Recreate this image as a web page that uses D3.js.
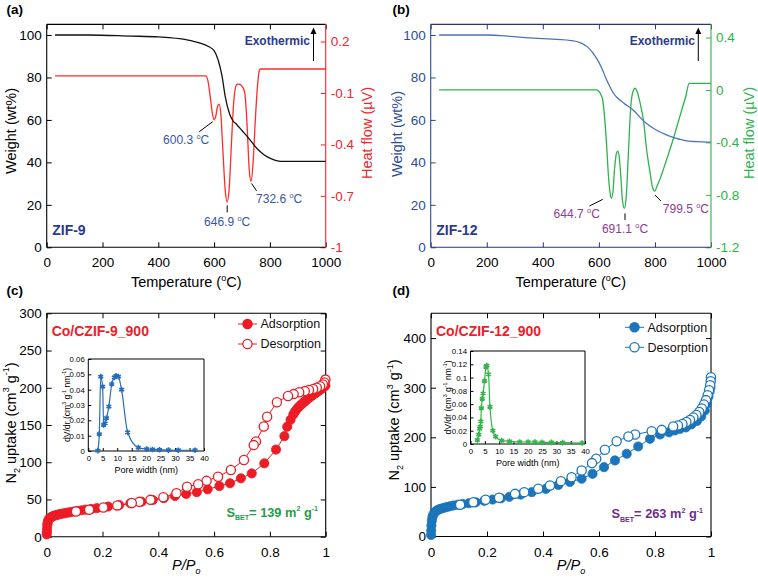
<!DOCTYPE html>
<html><head><meta charset="utf-8">
<script src="https://cdn.jsdelivr.net/npm/d3@7"></script>
<style>
body{margin:0;background:#fff;}
svg{display:block;font-family:"Liberation Sans",Arial,Helvetica,sans-serif;}
text{white-space:pre;}
</style></head><body>
<svg id="chart" width="758" height="578"></svg>
<script>
// ---------------- DATA ----------------
const tempTicks = [0, 200, 400, 600, 800, 1000];
const weightTicks = [0, 20, 40, 60, 80, 100];
const heatTicksA = [0.2, -0.1, -0.4, -0.7, -1];
const heatTicksB = [0.4, 0, -0.4, -0.8, -1.2];

// ZIF-9 TGA weight (T degC, wt%)
const weightA = [[30,100],[150,100],[300,99.5],[400,99.1],[500,97.8],[550,96.2],[580,94.6],[600,92.6],[615,88],[628,81],[640,71],[655,63],[668,59.5],[680,58],[700,55],[720,52],[740,48.7],[760,45.7],[780,43.5],[800,42],[820,41],[840,40.5],[1000,40.5]];
// ZIF-9 heat flow (T degC, uV)
const heatA = [[30,0],[570,0],[578,-0.03],[586,-0.12],[594,-0.22],[600.3,-0.256],[606,-0.235],[612,-0.18],[618,-0.165],[624,-0.22],[632,-0.45],[640,-0.67],[646.9,-0.735],[654,-0.66],[662,-0.4],[670,-0.16],[678,-0.06],[684,-0.048],[692,-0.05],[702,-0.065],[710,-0.1],[718,-0.28],[726,-0.55],[732.6,-0.616],[740,-0.5],[748,-0.25],[756,-0.05],[762,0.03],[766,0.04],[1000,0.04]];
const peaksA = [600.3, 646.9, 732.6];

// ZIF-12 TGA weight
const weightB = [[30,100],[200,100],[250,99.7],[300,99.2],[350,98.7],[400,98.3],[450,97.9],[500,97.4],[533,96.4],[560,94.3],[592,89],[610,84.5],[627,79],[640,75.5],[651,72.8],[663,70.8],[690,67.8],[722,64.7],[750,60.8],[769,58.4],[800,55.6],[829,53.7],[860,52],[888,50.9],[920,50],[948,49.8],[1000,49.5]];
// ZIF-12 heat flow
const heatB = [[30,0],[590,0],[600,-0.01],[608,-0.04],[614,-0.08],[620,-0.2],[627,-0.4],[634,-0.65],[639,-0.77],[644.7,-0.827],[650,-0.78],[656,-0.6],[662,-0.49],[667,-0.466],[672,-0.5],[678,-0.65],[684,-0.84],[691.1,-0.903],[698,-0.8],[706,-0.45],[714,-0.12],[722,-0.01],[729,0.013],[736,-0.01],[745,-0.08],[752,-0.15],[759,-0.23],[770,-0.45],[783,-0.635],[791,-0.74],[799.5,-0.771],[808,-0.73],[818,-0.68],[831,-0.6],[848,-0.49],[866,-0.37],[881,-0.26],[896,-0.15],[910,-0.05],[922,0.05],[1000,0.05]];
const peaksB = [644.7, 691.1, 799.5];

// N2 isotherms (P/Po, cm3 g-1)
const pTicks = [0, 0.2, 0.4, 0.6, 0.8, 1];
const uptakeTicksC = [0, 50, 100, 150, 200, 250, 300];
const uptakeTicksD = [0, 100, 200, 300, 400];
const adsorptionC = [[0.0002,3],[0.0005,6],[0.001,10],[0.002,15],[0.003,18],[0.005,21],[0.007,23],[0.01,24.5],[0.013,25.5],[0.017,26.5],[0.021,27.3],[0.026,28],[0.031,28.7],[0.037,29.3],[0.043,29.9],[0.05,30.5],[0.058,31.1],[0.066,31.7],[0.075,32.3],[0.085,33],[0.097,33.8],[0.11,34.6],[0.125,35.5],[0.14,36.3],[0.16,37.3],[0.18,38.3],[0.22,40.5],[0.26,42.6],[0.3,44.8],[0.34,47],[0.38,49.3],[0.42,51.8],[0.46,54.7],[0.5,57.5],[0.538,59.8],[0.577,63.6],[0.619,68],[0.657,71.8],[0.696,78.4],[0.735,85],[0.78,98.5],[0.822,117],[0.852,135],[0.862,147.7],[0.874,157],[0.884,164],[0.89,168],[0.896,171],[0.902,173.5],[0.908,176],[0.914,178],[0.92,180],[0.926,182],[0.932,184],[0.938,185.8],[0.944,187.5],[0.95,189.2],[0.956,190.8],[0.962,192.4],[0.968,194],[0.974,195.6],[0.98,197.2],[0.985,198.6],[0.99,200],[0.995,201.5],[0.999,203]];
const desorptionC = [[0.999,211],[0.995,207],[0.99,204.5],[0.98,202],[0.968,200],[0.955,198.5],[0.94,197],[0.925,195.5],[0.905,194],[0.885,191.5],[0.865,189],[0.825,180.5],[0.79,161],[0.778,148],[0.75,128],[0.742,123],[0.707,103],[0.66,89.6],[0.614,80.6],[0.573,75],[0.543,70.5],[0.503,67],[0.465,58.5],[0.418,52.9],[0.372,49.5],[0.332,46.8],[0.305,45.2],[0.253,42],[0.203,39.2],[0.152,36.2],[0.105,33.8]];
const adsorptionD = [[0.0003,3],[0.0008,12],[0.0015,22],[0.003,32],[0.005,39],[0.008,44],[0.012,48],[0.017,51],[0.023,53],[0.03,55],[0.038,56.5],[0.047,58],[0.057,59.5],[0.068,61],[0.08,62.5],[0.095,64],[0.113,65.5],[0.135,67],[0.16,69],[0.19,72],[0.22,74.5],[0.25,77],[0.28,80],[0.32,84.5],[0.36,89.4],[0.41,96],[0.455,104],[0.496,110],[0.538,116.4],[0.577,126.4],[0.618,139.8],[0.657,153.3],[0.699,166.8],[0.74,181.5],[0.782,197],[0.818,205.7],[0.85,210],[0.871,213.8],[0.89,217],[0.91,220],[0.93,226],[0.95,233],[0.965,242],[0.978,254],[0.986,268],[0.991,282],[0.995,292],[0.998,300]];
const desorptionD = [[1.0,321],[0.999,313],[0.997,305],[0.993,295],[0.988,285],[0.982,275],[0.975,266],[0.967,258],[0.958,251],[0.948,245],[0.937,240],[0.925,235],[0.912,231],[0.898,227],[0.882,224],[0.865,222],[0.824,215],[0.788,212.4],[0.729,205.7],[0.705,201.7],[0.663,192],[0.621,175],[0.59,157],[0.575,148],[0.538,133],[0.502,119.6],[0.464,111.6],[0.425,102.9],[0.383,96.2],[0.333,89.4],[0.3,86],[0.243,78],[0.195,74],[0.151,69.2],[0.104,63.9]];

// Pore size distributions (nm, cm3 g-1 nm-1)
const poreXTicks = [0, 5, 10, 15, 20, 25, 30, 35, 40];
const poreYTicksC = [0, 0.01, 0.02, 0.03, 0.04, 0.05, 0.06];
const poreYTicksD = [0, 0.02, 0.04, 0.06, 0.08, 0.1, 0.12, 0.14];
const poreC = [[3.3,0.0002],[3.8,0.011],[4.3,0.0485],[4.95,0.042],[5.3,0.017],[5.8,0.018],[6.3,0.0215],[7.1,0.029],[8.1,0.0437],[9.0,0.048],[9.6,0.049],[10.4,0.0485],[11.5,0.040],[13.6,0.0122],[17.3,0.0022],[20.2,0.0013],[22.2,0.001],[24.6,0.0008],[27.7,0.0006],[31.1,0.0005],[36.9,0.0005]];
const poreD = [[2.4,0.006],[2.9,0.014],[3.2,0.023],[3.4,0.026],[3.6,0.034],[3.8,0.054],[4.1,0.068],[4.4,0.076],[4.9,0.095],[5.4,0.116],[5.7,0.118],[6.3,0.105],[6.8,0.056],[7.8,0.020],[8.8,0.011],[10.9,0.005],[13.6,0.004],[17.2,0.003],[20.1,0.003],[22.5,0.003],[25.0,0.0025],[28.3,0.0025],[32.2,0.002],[39.0,0.0015]];

// ---------------- DRAWING ----------------
const svg = d3.select('#chart');
const FONT = '"Liberation Sans", Arial, Helvetica, sans-serif';
const TICK_FS = 13.5, TITLE_FS = 14.5;

function rich(t, parts, size, scale) {
  const sc = scale || 0.62;
  let cur = 0;
  parts.forEach(p => {
    const [s, k] = Array.isArray(p) ? p : [p, 'n'];
    const target = k === 'sup' ? -0.42 * size : (k === 'sub' ? 0.3 * size : 0);
    const ts = t.append('tspan').text(s);
    const d = target - cur;
    if (d) ts.attr('dy', d);
    if (k !== 'n') ts.attr('font-size', size * sc);
    cur = target;
  });
  return t;
}

function styleAxis(a, color, textColor, fs) {
  a.select('.domain').remove();
  a.attr('font-family', FONT);
  a.selectAll('.tick line').attr('stroke', color).attr('stroke-width', 1);
  a.selectAll('.tick text').attr('fill', textColor).attr('font-size', fs);
  return a;
}

function frame(g, x0, x1, y0, y1, cLeft, cRight, cTB, sw) {
  g.append('line').attr('x1', x0).attr('x2', x1).attr('y1', y0).attr('y2', y0).attr('stroke', cTB).attr('stroke-width', sw);
  g.append('line').attr('x1', x0).attr('x2', x1).attr('y1', y1).attr('y2', y1).attr('stroke', cTB).attr('stroke-width', sw);
  g.append('line').attr('x1', x0).attr('x2', x0).attr('y1', y0).attr('y2', y1).attr('stroke', cLeft).attr('stroke-width', sw);
  g.append('line').attr('x1', x1).attr('x2', x1).attr('y1', y0).attr('y2', y1).attr('stroke', cRight).attr('stroke-width', sw);
}

function panelLabel(x, y, s) {
  svg.append('text').attr('x', x).attr('y', y).attr('font-size', 13.5).attr('font-weight', 'bold').text(s);
}

// ---------- TGA panels ----------
function tgaPanel(cfg) {
  const g = svg.append('g');
  const top = 24.4, bot = 247.3;
  const x = d3.scaleLinear([0, 1000], [cfg.x0, cfg.x1]);
  const yW = d3.scaleLinear([0, 105], [bot, top]);
  const yH = d3.scaleLinear(cfg.hDomain, [bot, top]);

  styleAxis(g.append('g').attr('transform', `translate(0,${bot})`)
    .call(d3.axisBottom(x).tickValues(tempTicks).tickSize(-5).tickPadding(10).tickFormat(d3.format('d'))), cfg.tbColor, '#000', TICK_FS);
  styleAxis(g.append('g').attr('transform', `translate(0,${top})`)
    .call(d3.axisTop(x).tickValues(tempTicks).tickSize(-5).tickFormat('')), cfg.tbColor, '#000', TICK_FS);
  styleAxis(g.append('g').attr('transform', `translate(${cfg.x0},0)`)
    .call(d3.axisLeft(yW).tickValues(weightTicks).tickSize(-5).tickPadding(5)), cfg.leftColor, cfg.leftText, TICK_FS);
  styleAxis(g.append('g').attr('transform', `translate(${cfg.x1},0)`)
    .call(d3.axisRight(yH).tickValues(cfg.hTicks).tickSize(-5).tickPadding(5).tickFormat(d => String(d))), cfg.rightColor, cfg.rightColor, TICK_FS);
  frame(g, cfg.x0, cfg.x1, top, bot, cfg.leftColor, cfg.rightColor, cfg.tbColor, 1.1);

  const lineW = d3.line().x(d => x(d[0])).y(d => yW(d[1])).curve(d3.curveMonotoneX);
  const lineH = d3.line().x(d => x(d[0])).y(d => yH(d[1])).curve(d3.curveMonotoneX);
  g.append('path').datum(cfg.heat).attr('d', lineH).attr('fill', 'none').attr('stroke', cfg.heatColor).attr('stroke-width', 1.3);
  g.append('path').datum(cfg.weight).attr('d', lineW).attr('fill', 'none').attr('stroke', cfg.weightColor).attr('stroke-width', 1.3);

  const heatAt = T => cfg.heat.find(d => d[0] === T)[1];
  cfg.peaks.forEach((T, i) => {
    const px = x(T), py = yH(heatAt(T));
    const a = cfg.ann[i];
    g.append('line').attr('x1', px + a.l[0]).attr('y1', py + a.l[1]).attr('x2', px + a.l[2]).attr('y2', py + a.l[3])
      .attr('stroke', '#000').attr('stroke-width', 1);
    const t = g.append('text').attr('x', px + a.t[0]).attr('y', py + a.t[1]).attr('text-anchor', a.anchor)
      .attr('font-size', 12).attr('fill', cfg.annColor);
    rich(t, [T.toFixed(1) + ' ', ['o', 'sup'], 'C'], 12);
  });

  const cx = (cfg.x0 + cfg.x1) / 2;
  rich(svg.append('text').attr('x', cx).attr('y', 287).attr('text-anchor', 'middle').attr('font-size', TITLE_FS),
    ['Temperature (', ['o', 'sup'], 'C)'], TITLE_FS);
  svg.append('text').attr('transform', `translate(${cfg.yTitleL},${cfg.yTitleLy}) rotate(-90)`).attr('text-anchor', 'middle')
    .attr('font-size', TITLE_FS).attr('fill', cfg.leftText).text('Weight (wt%)');
  svg.append('text').attr('transform', `translate(${cfg.yTitleR},133) rotate(-90)`).attr('text-anchor', 'middle')
    .attr('font-size', TITLE_FS).attr('fill', cfg.rightColor).text('Heat flow (\u00B5V)');

  g.append('text').attr('x', cfg.exoX).attr('y', 44.5).attr('text-anchor', 'end').attr('font-size', 12).attr('font-weight', 'bold')
    .attr('fill', '#2b3990').text('Exothermic');
  g.append('line').attr('x1', cfg.arrowX).attr('x2', cfg.arrowX).attr('y1', 61).attr('y2', 31).attr('stroke', '#000').attr('stroke-width', 1);
  g.append('path').attr('d', `M${cfg.arrowX - 3},${34}L${cfg.arrowX},${27.5}L${cfg.arrowX + 3},${34}Z`).attr('fill', '#000');

  g.append('text').attr('x', cfg.x0 + 5.5).attr('y', 235).attr('font-size', 14).attr('font-weight', 'bold').attr('fill', '#2b3990').text(cfg.name);
}

tgaPanel({
  x0: 46.7, x1: 325.7, hDomain: [-1, 0.3], hTicks: heatTicksA,
  weight: weightA, heat: heatA, peaks: peaksA,
  weightColor: '#111', heatColor: '#ff2b2b', leftColor: '#000', leftText: '#000', rightColor: '#f0262b', tbColor: '#000',
  annColor: '#3556a8', name: 'ZIF-9', exoX: 310, arrowX: 313.5,
  yTitleL: 16, yTitleLy: 131, yTitleR: 371.5,
  ann: [
    { l: [-15, 12, -1.5, 2], t: [-28, 24], anchor: 'middle' },
    { l: [0, 3.5, 0, 10.5], t: [0, 24.5], anchor: 'middle' },
    { l: [0.5, 2, 5.5, 9.5], t: [5, 22], anchor: 'start' }
  ]
});
tgaPanel({
  x0: 430.7, x1: 711, hDomain: [-1.2, 0.5], hTicks: heatTicksB,
  weight: weightB, heat: heatB, peaks: peaksB,
  weightColor: '#4a74b8', heatColor: '#2cb34c', leftColor: '#2b4c9b', leftText: '#2b4c9b', rightColor: '#2cb34c', tbColor: '#26367a',
  annColor: '#8b3d8f', name: 'ZIF-12', exoX: 695, arrowX: 698.3,
  yTitleL: 401.7, yTitleLy: 134, yTitleR: 753.5,
  ann: [
    { l: [-22, 7.6, -8.7, 1], t: [-34.7, 20], anchor: 'middle' },
    { l: [0.6, 5, 0.6, 11.6], t: [0.6, 25], anchor: 'middle' },
    { l: [0.2, 4, 6.2, 10], t: [8, 22], anchor: 'start' }
  ]
});

// ---------- Isotherm panels ----------
function isoPanel(cfg) {
  const g = svg.append('g');
  const top = 313.3, bot = cfg.bot;
  const x = d3.scaleLinear([0, 1], [cfg.x0, cfg.x1]);
  const y = d3.scaleLinear([0, cfg.yMax], [bot, top]);

  styleAxis(g.append('g').attr('transform', `translate(0,${bot})`)
    .call(d3.axisBottom(x).tickValues(pTicks).tickSize(-5).tickPadding(11).tickFormat(d => String(d))), '#000', '#000', TICK_FS);
  styleAxis(g.append('g').attr('transform', `translate(0,${top})`)
    .call(d3.axisTop(x).tickValues(pTicks).tickSize(-5).tickFormat('')), '#000', '#000', TICK_FS);
  styleAxis(g.append('g').attr('transform', `translate(${cfg.x0},0)`)
    .call(d3.axisLeft(y).tickValues(cfg.yTicks).tickSize(-5).tickPadding(5)), '#000', '#000', TICK_FS);
  styleAxis(g.append('g').attr('transform', `translate(${cfg.x1},0)`)
    .call(d3.axisRight(y).tickValues(cfg.yTicks).tickSize(-5).tickFormat('')), '#000', '#000', TICK_FS);
  frame(g, cfg.x0, cfg.x1, top, bot, '#000', '#000', '#000', 1.1);

  const line = d3.line().x(d => x(d[0])).y(d => y(d[1]));
  const R = 4.6;
  g.append('path').datum(cfg.ads).attr('d', line).attr('fill', 'none').attr('stroke', cfg.color).attr('stroke-width', 1);
  g.selectAll('circle.ads').data(cfg.ads).join('circle').attr('class', 'ads')
    .attr('cx', d => x(d[0])).attr('cy', d => y(d[1])).attr('r', R).attr('fill', cfg.color).attr('stroke', cfg.color).attr('stroke-width', 0.8);
  g.append('path').datum(cfg.des).attr('d', line).attr('fill', 'none').attr('stroke', cfg.color).attr('stroke-width', 1);
  g.selectAll('circle.des').data(cfg.des).join('circle').attr('class', 'des')
    .attr('cx', d => x(d[0])).attr('cy', d => y(d[1])).attr('r', R).attr('fill', '#fff').attr('stroke', cfg.color).attr('stroke-width', 1.3);

  const lg = g.append('g');
  [['Adsorption', cfg.color], ['Desorption', '#fff']].forEach((d, i) => {
    const ly = cfg.legY + i * 20;
    lg.append('line').attr('x1', cfg.legX).attr('x2', cfg.legX + 19).attr('y1', ly).attr('y2', ly).attr('stroke', cfg.color).attr('stroke-width', 1);
    lg.append('circle').attr('cx', cfg.legX + 9.5).attr('cy', ly).attr('r', R).attr('fill', d[1]).attr('stroke', cfg.color).attr('stroke-width', 1.3);
    lg.append('text').attr('x', cfg.legX + 22.5).attr('y', ly + 4.3).attr('font-size', 12.5).attr('fill', '#111').text(d[0]);
  });

  g.append('text').attr('x', cfg.x0 + 5).attr('y', 335.5).attr('font-size', 14).attr('font-weight', 'bold').attr('fill', '#ee1c25').text(cfg.name);
  rich(g.append('text').attr('x', cfg.sbetX).attr('y', cfg.sbetY).attr('font-size', 12.8).attr('font-weight', 'bold').attr('fill', cfg.sbetColor),
    ['S', ['BET', 'sub'], '= ' + cfg.sbet + ' m', ['2', 'sup'], ' g', ['-1', 'sup']], 12.8, 0.55);

  rich(svg.append('text').attr('x', (cfg.x0 + cfg.x1) / 2).attr('y', 570).attr('text-anchor', 'middle').attr('font-size', TITLE_FS).attr('font-style', 'italic'),
    ['P/P', ['o', 'sub']], TITLE_FS);
  rich(svg.append('text').attr('transform', `translate(${cfg.yTitleX},${cfg.yTitleY}) rotate(-90)`).attr('text-anchor', 'middle').attr('font-size', TITLE_FS),
    ['N', ['2', 'sub'], ' uptake (cm', ['3', 'sup'], ' g', ['-1', 'sup'], ')'], TITLE_FS);

  const ins = cfg.inset;
  const ig = g.append('g');
  ig.append('rect').attr('x', ins.x0).attr('y', ins.y0).attr('width', ins.x1 - ins.x0).attr('height', ins.y1 - ins.y0).attr('fill', '#fff');
  const ix = d3.scaleLinear([0, 40], [ins.x0, ins.x1]);
  const iy = d3.scaleLinear([0, ins.yMax], [ins.y1, ins.y0]);
  styleAxis(ig.append('g').attr('transform', `translate(0,${ins.y1})`)
    .call(d3.axisBottom(ix).tickValues(poreXTicks).tickSize(-3).tickPadding(4)), '#000', '#000', 7.8);
  styleAxis(ig.append('g').attr('transform', `translate(${ins.x0},0)`)
    .call(d3.axisLeft(iy).tickValues(ins.yTicks).tickSize(-3).tickPadding(3.5).tickFormat(d => String(d))), '#000', '#000', 7.8);
  frame(ig, ins.x0, ins.x1, ins.y0, ins.y1, '#000', '#000', '#000', 1);
  const il = d3.line().x(d => ix(d[0])).y(d => iy(d[1])).curve(d3.curveMonotoneX);
  ig.append('path').datum(ins.data).attr('d', il).attr('fill', 'none').attr('stroke', ins.color).attr('stroke-width', 1.2);
  const sym = d3.symbol().type(d3.symbolAsterisk).size(22);
  ig.selectAll('path.mk').data(ins.data).join('path').attr('class', 'mk')
    .attr('transform', d => `translate(${ix(d[0])},${iy(d[1])})`).attr('d', sym)
    .attr('stroke', ins.color).attr('stroke-width', 1.6).attr('fill', 'none');
  ig.append('text').attr('x', (ins.x0 + ins.x1) / 2).attr('y', ins.y1 + 21.5).attr('text-anchor', 'middle').attr('font-size', 9).text('Pore width (nm)');
  rich(ig.append('text').attr('transform', `translate(${ins.titleX},${(ins.y0 + ins.y1) / 2}) rotate(-90)`).attr('text-anchor', 'middle').attr('font-size', 8.6),
    ['dV/dr (cm', ['3', 'sup'], ' g', ['-1', 'sup'], ' nm', ['-1', 'sup'], ')'], 8.6);
}

isoPanel({
  x0: 46.7, x1: 325.7, bot: 536.7, yMax: 300, yTicks: uptakeTicksC,
  ads: adsorptionC, des: desorptionC, color: '#ec1c24',
  legX: 238, legY: 324, name: 'Co/CZIF-9_900',
  sbet: '139', sbetX: 226.5, sbetY: 516.5, sbetColor: '#1f9e49',
  yTitleX: 15.5, yTitleY: 423,
  inset: { x0: 88.3, x1: 204, y0: 359, y1: 451, yMax: 0.06, yTicks: poreYTicksC, data: poreC, color: '#2a6cb6', titleX: 70 }
});
isoPanel({
  x0: 431, x1: 711, bot: 536.5, yMax: 450, yTicks: uptakeTicksD,
  ads: adsorptionD, des: desorptionD, color: '#1b75bb',
  legX: 625, legY: 327.3, name: 'Co/CZIF-12_900',
  sbet: '263', sbetX: 611.5, sbetY: 518, sbetColor: '#6d2e8a',
  yTitleX: 399, yTitleY: 420,
  inset: { x0: 470.5, x1: 585, y0: 351, y1: 444, yMax: 0.14, yTicks: poreYTicksD, data: poreD, color: '#34b44a', titleX: 451 }
});

panelLabel(6.5, 14, '(a)');
panelLabel(392.5, 14, '(b)');
panelLabel(6.5, 295, '(c)');
panelLabel(392.5, 295, '(d)');
</script>
</body></html>
